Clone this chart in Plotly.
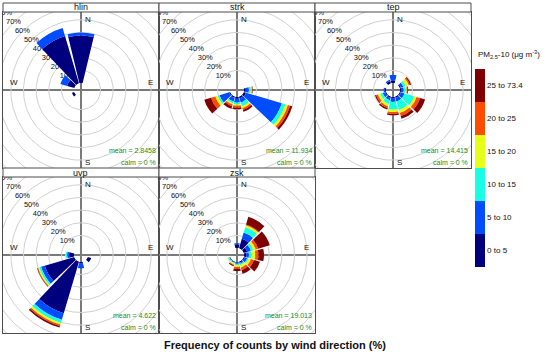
import numpy as np
import plotly.graph_objects as go

# ---------------- data ----------------
directions = [0, 30, 60, 90, 120, 150, 180, 210, 240, 270, 300, 330]
bin_labels = ["0 to 5", "5 to 10", "10 to 15", "15 to 20", "20 to 25", "25 to 73.4"]
bin_colors = ["#00007F", "#004CFF", "#19FFE5", "#E5FF19", "#FF4C00", "#7F0000"]
sites = ["hlin", "strk", "tep", "uvp", "zsk"]
site_means = ["2.8458", "11.934", "14.415", "4.622", "19.013"]
calm_pct = ["0", "0", "0", "0", "0"]

# cumulative frequency (%) per concentration bin, one row per direction
hlin_cum = [
    [37.7, 39.9, 39.9, 39.9, 39.9, 39.9],
    [0, 0, 0, 0, 0, 0], [0, 0, 0, 0, 0, 0], [0, 0, 0, 0, 0, 0],
    [0, 0, 0, 0, 0, 0], [0, 0, 0, 0, 0, 0], [0, 0, 0, 0, 0, 0],
    [0, 0, 0, 0, 0, 0],
    [2.0, 2.0, 2.0, 2.0, 2.0, 2.0],
    [0, 0, 0, 0, 0, 0],
    [6.0, 11.6, 11.6, 11.6, 11.6, 11.6],
    [39.0, 45.7, 45.7, 45.7, 45.7, 45.7],
]
strk_cum = [
    [0, 0, 0, 0, 0, 0], [0, 0, 0, 0, 0, 0], [0, 0, 0, 0, 0, 0],
    [1.5, 4.0, 5.5, 6.3, 6.8, 7.1],
    [2.0, 31.5, 34.5, 36.5, 38.3, 40.1],
    [1.5, 5.0, 8.0, 9.5, 11.0, 12.5],
    [1.5, 4.5, 6.0, 7.0, 8.5, 9.8],
    [1.0, 4.0, 5.5, 6.5, 8.0, 10.1],
    [1.0, 9.0, 10.5, 12.5, 16.0, 21.5],
    [0, 0, 0, 0, 0, 0], [0, 0, 0, 0, 0, 0], [0, 0, 0, 0, 0, 0],
]
tep_cum = [
    [2.0, 6.6, 6.6, 6.6, 6.6, 6.6],
    [0, 0, 0, 0, 0, 0],
    [1.0, 3.0, 5.0, 7.5, 8.5, 9.5],
    [1.0, 3.0, 4.5, 5.5, 6.0, 6.6],
    [1.0, 4.0, 12.0, 14.0, 17.0, 21.0],
    [1.0, 4.0, 11.0, 13.5, 16.0, 18.3],
    [1.0, 4.0, 10.0, 12.0, 13.5, 14.6],
    [1.0, 3.0, 6.0, 8.0, 9.5, 10.6],
    [1.0, 3.0, 5.0, 7.0, 8.5, 9.5],
    [1.0, 2.0, 2.0, 2.0, 2.0, 2.0],
    [0, 0, 0, 0, 0, 0],
    [2.0, 3.0, 3.0, 3.0, 3.0, 3.0],
]
uvp_cum = [
    [0, 0, 0, 0, 0, 0], [0, 0, 0, 0, 0, 0], [0, 0, 0, 0, 0, 0],
    [0, 0, 0, 0, 0, 0],
    [3.0, 3.0, 3.0, 3.0, 3.0, 3.0],
    [0, 0, 0, 0, 0, 0],
    [1.0, 5.2, 5.2, 5.2, 5.2, 5.2],
    [42.5, 47.9, 50.5, 51.9, 53.2, 54.4],
    [24.4, 27.5, 29.0, 30.0, 30.5, 30.9],
    [4.0, 5.5, 6.5, 7.1, 7.1, 7.1],
    [0, 0, 0, 0, 0, 0], [0, 0, 0, 0, 0, 0],
]
zsk_cum = [
    [3.0, 4.0, 4.0, 4.0, 4.0, 4.0],
    [8.0, 13.0, 17.5, 19.0, 19.7, 26.0],
    [3.0, 6.0, 8.0, 10.0, 12.0, 21.6],
    [2.0, 4.0, 6.0, 9.0, 11.5, 15.9],
    [1.0, 3.0, 4.0, 6.0, 8.5, 13.5],
    [1.0, 2.0, 3.0, 5.0, 7.0, 10.1],
    [0.5, 1.5, 2.5, 4.0, 5.5, 7.4],
    [0.5, 1.0, 1.5, 2.5, 3.0, 3.9],
    [0.5, 1.0, 2.0, 2.5, 2.5, 2.5],
    [0, 0, 0, 0, 0, 0], [0, 0, 0, 0, 0, 0], [0, 0, 0, 0, 0, 0],
]
site_cum = [hlin_cum, strk_cum, tep_cum, uvp_cum, zsk_cum]

# ---------------- geometry (pixels) ----------------
W, H = 550, 354
PANEL = 156
STRIP = 9
col_x = [3, 159, 315]
row_top = [12, 177]  # top of plot area (strip sits above)
positions = [(0, 0), (0, 1), (0, 2), (1, 0), (1, 1)]

FONT = "Liberation Sans, Arial, sans-serif"
ring_col = "#d0d0d0"
axis_col = "#7a7a7a"
frame_col = "#4d4d4d"
calm_col = "#228B22"

max_freq = max(max(row[-1] for row in c) for c in site_cum)
off_set = 0.1 * max_freq
R = 1.03 * (max_freq + off_set)
grid_vals = list(range(10, int(2 * max_freq) + 10, 10))

fig = go.Figure()
shapes = []
annotations = []
layout_extra = {}

theta_circ = np.linspace(0, 2 * np.pi, 241)

for i, site in enumerate(sites):
    r_i, c_i = positions[i]
    x0 = col_x[c_i]
    y0 = row_top[r_i]
    dx = [x0 / W, (x0 + PANEL) / W]
    dy = [1 - (y0 + PANEL) / H, 1 - y0 / H]
    k = i + 1
    xa = "x" if k == 1 else f"x{k}"
    ya = "y" if k == 1 else f"y{k}"
    pol = "polar" if k == 1 else f"polar{k}"

    # grid rings
    for v in grid_vals:
        rr = v + off_set
        fig.add_trace(go.Scatter(
            x=rr * np.sin(theta_circ), y=rr * np.cos(theta_circ), mode="lines",
            line=dict(color=ring_col, width=1), hoverinfo="skip", showlegend=False,
            xaxis=xa, yaxis=ya))
    # ring labels along 315 degrees
    lab_r = np.array(grid_vals) + off_set
    fig.add_trace(go.Scatter(
        x=lab_r * np.sin(np.radians(315)), y=lab_r * np.cos(np.radians(315)),
        mode="text", text=[f"{v}%" for v in grid_vals],
        textfont=dict(family=FONT, size=7.5, color="#111"),
        hoverinfo="skip", showlegend=False, cliponaxis=True, xaxis=xa, yaxis=ya))

    ax_common = dict(range=[-R, R], domain=None, showgrid=False, showticklabels=False,
                     ticks="", zeroline=True, zerolinecolor=axis_col, zerolinewidth=1.5,
                     showline=True, mirror=True, linecolor=frame_col, linewidth=1,
                     fixedrange=True)
    xd = dict(ax_common); xd["domain"] = dx; xd["anchor"] = ya
    yd = dict(ax_common); yd["domain"] = dy; yd["anchor"] = xa
    layout_extra["xaxis" if k == 1 else f"xaxis{k}"] = xd
    layout_extra["yaxis" if k == 1 else f"yaxis{k}"] = yd

    # polar overlay for bars
    layout_extra[pol] = dict(
        domain=dict(x=dx, y=dy), hole=off_set / R, bgcolor="rgba(0,0,0,0)",
        barmode="stack",
        radialaxis=dict(range=[0, R - off_set], visible=False, showgrid=False),
        angularaxis=dict(rotation=90, direction="clockwise", visible=False, showgrid=False),
    )
    cum = np.array(site_cum[i], dtype=float)
    inc = np.diff(np.concatenate([np.zeros((cum.shape[0], 1)), cum], axis=1), axis=1)
    for b in range(len(bin_labels)):
        fig.add_trace(go.Barpolar(
            r=inc[:, b], theta=directions, width=27, subplot=pol,
            marker=dict(color=bin_colors[b], line=dict(width=0)),
            showlegend=False, hoverinfo="skip"))

    # strip
    sx0, sx1 = x0 / W, (x0 + PANEL) / W
    sy0, sy1 = 1 - y0 / H, 1 - (y0 - STRIP) / H
    shapes.append(dict(type="rect", xref="paper", yref="paper", x0=sx0, x1=sx1, y0=sy0, y1=sy1,
                       line=dict(color=frame_col, width=1), fillcolor="white", layer="above"))
    annotations.append(dict(xref="paper", yref="paper", x=(sx0 + sx1) / 2, y=(sy0 + sy1) / 2,
                            text=site, showarrow=False, xanchor="center", yanchor="middle",
                            font=dict(family=FONT, size=9, color="#111")))
    # compass labels
    xr = "x" if k == 1 else f"x{k}"
    yr = "y" if k == 1 else f"y{k}"
    for txt, ax_, ay_, xan in [("N", 0, 0.90 * R, "left"), ("S", 0, -0.925 * R, "left"),
                               ("W", -0.93 * R, 0, "left"), ("E", 0.95 * R, 0, "right")]:
        annotations.append(dict(xref=xr, yref=yr, x=ax_, y=ay_, text=txt, showarrow=False,
                                xanchor=xan, yanchor="middle" if txt in "NS" else "bottom",
                                xshift=2 if txt in "NS" else 0, yshift=1 if txt in "WE" else 0,
                                font=dict(family=FONT, size=8, color="#111")))
    # mean / calm
    annotations.append(dict(xref=xr, yref=yr, x=0.99 * R, y=-R, text=f"mean = {site_means[i]}",
                            showarrow=False, xanchor="right", yanchor="bottom", yshift=12,
                            font=dict(family=FONT, size=7, color=calm_col)))
    annotations.append(dict(xref=xr, yref=yr, x=0.99 * R, y=-R, text=f"calm = {calm_pct[i]} %",
                            showarrow=False, xanchor="right", yanchor="bottom", yshift=0,
                            font=dict(family=FONT, size=7, color=calm_col)))

# legend as a discrete colour bar
n = len(bin_colors)
cscale = []
for b, c in enumerate(bin_colors):
    cscale.append([b / n, c])
    cscale.append([(b + 1) / n, c])
fig.add_trace(go.Scatter(
    x=[None], y=[None], mode="markers", showlegend=False, hoverinfo="skip",
    marker=dict(color=[0, n], cmin=0, cmax=n, colorscale=cscale, showscale=True,
                colorbar=dict(x=475 / W, xanchor="left", y=1 - 168 / H, yanchor="middle",
                              len=198, lenmode="pixels", thickness=10, thicknessmode="pixels",
                              outlinewidth=0, xpad=0, ypad=0, ticks="",
                              tickvals=[b + 0.5 for b in range(n)], ticktext=bin_labels,
                              tickfont=dict(family=FONT, size=8, color="#111"))),
    xaxis="x", yaxis="y"))

annotations.append(dict(xref="paper", yref="paper", x=476 / W, y=1 - 55 / H,
                        text="PM<sub>2.5</sub>-10 (μg m<sup>-3</sup>)", showarrow=False,
                        xanchor="left", yanchor="middle",
                        font=dict(family=FONT, size=8, color="#111")))
annotations.append(dict(xref="paper", yref="paper", x=0.5, y=1 - 345 / H,
                        text="<b>Frequency of counts by wind direction (%)</b>", showarrow=False,
                        xanchor="center", yanchor="middle",
                        font=dict(family=FONT, size=11, color="#111")))

fig.update_layout(width=W, height=H, margin=dict(l=0, r=0, t=0, b=0),
                  paper_bgcolor="white", plot_bgcolor="white",
                  shapes=shapes, annotations=annotations, showlegend=False, **layout_extra)
fig.write_html("out.html", config={"displayModeBar": False},
               post_script="document.body.style.margin='0';document.body.style.overflow='hidden';")
